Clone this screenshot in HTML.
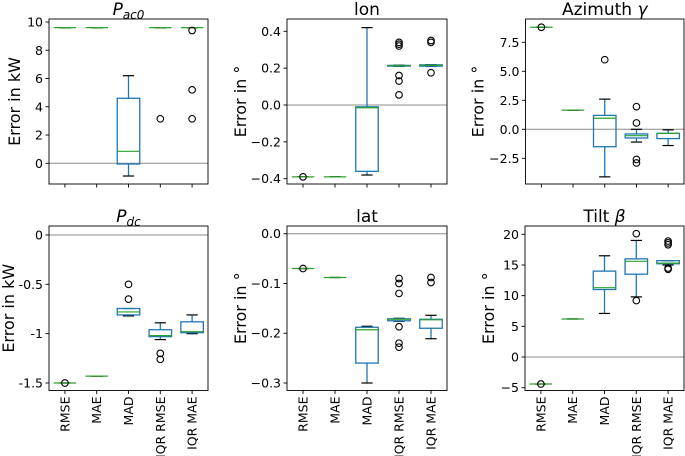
<!DOCTYPE html>
<html><head><meta charset="utf-8"><style>
body{margin:0;background:#fff;}
svg{display:block;font-family:"DejaVu Sans","Liberation Sans",sans-serif;}
</style></head><body>
<svg id="c" width="685" height="456" viewBox="0 0 685 456"></svg>
<script>
const categories = ["RMSE","MAE","MAD","IQR RMSE","IQR MAE"];
// stats per panel: [whislo, q1, med, q3, whishi, fliers]
const pac0Stats = [[9.6,9.6,9.6,9.6,9.6,[]],[9.6,9.6,9.6,9.6,9.6,[]],[-0.9,-0.05,0.85,4.6,6.2,[]],[9.6,9.6,9.6,9.6,9.6,[3.15]],[9.6,9.6,9.6,9.6,9.6,[9.4,5.2,3.15]]];
const lonStats = [[-0.39,-0.39,-0.39,-0.39,-0.39,[-0.39]],[-0.39,-0.39,-0.39,-0.39,-0.39,[]],[-0.38,-0.36,-0.015,-0.01,0.42,[]],[0.21,0.211,0.213,0.215,0.216,[0.34,0.33,0.32,0.16,0.13,0.055]],[0.21,0.211,0.215,0.218,0.219,[0.35,0.34,0.175]]];
const aziStats = [[8.8,8.8,8.8,8.8,8.8,[8.8]],[1.65,1.65,1.65,1.65,1.65,[]],[-4.1,-1.5,0.95,1.2,2.6,[6.0]],[-1.1,-0.75,-0.55,-0.4,0.0,[1.95,0.55,-2.6,-2.9]],[-1.4,-0.8,-0.35,-0.35,-0.05,[]]];
const pdcStats = [[-1.5,-1.5,-1.5,-1.5,-1.5,[-1.5]],[-1.43,-1.43,-1.43,-1.43,-1.43,[]],[-0.82,-0.81,-0.78,-0.745,-0.745,[-0.5,-0.65]],[-1.06,-1.03,-1.02,-0.96,-0.89,[-1.2,-1.26]],[-1.0,-0.99,-0.98,-0.88,-0.81,[]]];
const latStats = [[-0.07,-0.07,-0.07,-0.07,-0.07,[-0.07]],[-0.088,-0.088,-0.088,-0.088,-0.088,[]],[-0.3,-0.26,-0.193,-0.188,-0.186,[]],[-0.176,-0.175,-0.172,-0.171,-0.17,[-0.09,-0.1,-0.12,-0.187,-0.22,-0.228]],[-0.211,-0.19,-0.173,-0.172,-0.164,[-0.088,-0.098]]];
const tiltStats = [[-4.4,-4.4,-4.4,-4.4,-4.4,[-4.4]],[6.2,6.2,6.2,6.2,6.2,[]],[7.1,11.0,11.3,14.0,16.5,[]],[9.8,13.5,15.6,16.0,19.0,[20.1,9.2]],[15.0,15.2,15.3,15.7,15.7,[18.3,18.6,18.9,14.3,14.5]]];
const pac0Ticks = [0,2,4,6,8,10], pac0TickLabels = ["0","2","4","6","8","10"];
const lonTicks = [-0.4,-0.2,0,0.2,0.4], lonTickLabels = ["−0.4","−0.2","0.0","0.2","0.4"];
const aziTicks = [-2.5,0,2.5,5,7.5], aziTickLabels = ["−2.5","0.0","2.5","5.0","7.5"];
const pdcTicks = [-1.5,-1,-0.5,0], pdcTickLabels = ["-1.5","-1","-0.5","0"];
const latTicks = [-0.3,-0.2,-0.1,0], latTickLabels = ["−0.3","−0.2","−0.1","0.0"];
const tiltTicks = [-5,0,5,10,15,20], tiltTickLabels = ["−5","0","5","10","15","20"];

const NS="http://www.w3.org/2000/svg";
const svg=document.getElementById('c');
function mk(tag,attrs,parent){const e=document.createElementNS(NS,tag);for(const k in attrs)e.setAttribute(k,attrs[k]);(parent||svg).appendChild(e);return e;}

const panels=[
 {name:'pac0',title:'P<tspan font-size="12" dy="4">ac0</tspan>',italic:true,ylabel:'Error in kW',yo:35,L:49,R:208,T:19,B:184,v0:10,p0:22,v1:0,p1:163.3,stats:pac0Stats,ticks:pac0Ticks,labels:pac0TickLabels,xl:false},
 {name:'lon',title:'lon',ylabel:'Error in °',yo:47,L:287,R:447,T:19,B:184,v0:0.4,p0:31.3,v1:-0.4,p1:178.7,stats:lonStats,ticks:lonTicks,labels:lonTickLabels,xl:false},
 {name:'azimuth',title:'Azimuth <tspan font-style="italic">γ</tspan>',ylabel:'Error in °',yo:48,L:525.5,R:684,T:19,B:184,v0:7.5,p0:42.3,v1:-2.5,p1:158.3,stats:aziStats,ticks:aziTicks,labels:aziTickLabels,xl:false},
 {name:'pdc',title:'P<tspan font-size="12" dy="4">dc</tspan>',italic:true,ylabel:'Error in kW',yo:41,L:49,R:208,T:226,B:390.5,v0:0,p0:235,v1:-1.5,p1:383,stats:pdcStats,ticks:pdcTicks,labels:pdcTickLabels,xl:true},
 {name:'lat',title:'lat',ylabel:'Error in °',yo:47,L:287,R:447,T:226,B:390.5,v0:0,p0:233.7,v1:-0.3,p1:383,stats:latStats,ticks:latTicks,labels:latTickLabels,xl:true},
 {name:'tilt',title:'Tilt <tspan font-style="italic">β</tspan>',ylabel:'Error in °',yo:37,L:525,R:684,T:226,B:390.5,v0:20,p0:234.3,v1:-5,p1:387.7,stats:tiltStats,ticks:tiltTicks,labels:tiltTickLabels,xl:true}
];

panels.forEach(p=>{
 const g=mk('g',{});
 
 
 const y=v=>p.p1+(v-p.v1)*(p.p0-p.p1)/(p.v0-p.v1);
 const unit=(p.R-p.L)/5;
 const x=i=>p.L+unit*(i+0.5);
 const bw=22.5;
 const z=mk('line',{x1:p.L,x2:p.R,y1:y(0),y2:y(0),stroke:'#8c8c8c','stroke-width':1},g);
 
 p.stats.forEach((s,i)=>{
  const bg=mk('g',{},g);
  
  
  const cx=x(i);
  mk('line',{x1:cx,x2:cx,y1:y(s[0]),y2:y(s[1]),stroke:'#1f77b4','stroke-width':1.3},bg);
  mk('line',{x1:cx,x2:cx,y1:y(s[3]),y2:y(s[4]),stroke:'#1f77b4','stroke-width':1.3},bg);
  mk('line',{x1:cx-bw/4,x2:cx+bw/4,y1:y(s[0]),y2:y(s[0]),stroke:'#000','stroke-width':1.2},bg);
  mk('line',{x1:cx-bw/4,x2:cx+bw/4,y1:y(s[4]),y2:y(s[4]),stroke:'#000','stroke-width':1.2},bg);
  mk('rect',{x:cx-bw/2,y:y(s[3]),width:bw,height:Math.max(0,y(s[1])-y(s[3])),fill:'none',stroke:'#1f77b4','stroke-width':1.3},bg);
  mk('line',{x1:cx-bw/2,x2:cx+bw/2,y1:y(s[2]),y2:y(s[2]),stroke:'#2ca02c','stroke-width':1.2},bg);
  s[5].forEach(f=>mk('circle',{cx:cx,cy:y(f),r:3.3,fill:'none',stroke:'#000','stroke-width':1.1},bg));
 });
 const fr=mk('rect',{x:p.L,y:p.T,width:p.R-p.L,height:p.B-p.T,fill:'none',stroke:'#000','stroke-width':0.9},g);
 
 p.ticks.forEach((t,i)=>{
  mk('line',{x1:p.L-3.5,x2:p.L,y1:y(t),y2:y(t),stroke:'#000','stroke-width':0.9},g);
  const tx=mk('text',{x:p.L-6,y:y(t)+4.5,'text-anchor':'end','font-size':12.5,fill:'#000'},g);
  tx.textContent=p.labels[i];
  
 });
 categories.forEach((c,i)=>{
  mk('line',{x1:x(i),x2:x(i),y1:p.B,y2:p.B+3.5,stroke:'#000','stroke-width':0.9},g);
  if(p.xl){
   const tx=mk('text',{transform:`translate(${x(i)+4.5},${p.B+6}) rotate(-90)`,'text-anchor':'end','font-size':12.5,fill:'#000'},g);
   tx.textContent=c;
   
  }
 });
 const tt=mk('text',{x:(p.L+p.R)/2,y:p.T-4,'text-anchor':'middle','font-size':17,fill:'#000'},g);
 if(p.italic)tt.setAttribute('font-style','italic');
 tt.innerHTML=p.title;
 
 const yl=mk('text',{transform:`translate(${p.L-p.yo+6},${(p.T+p.B)/2}) rotate(-90)`,'text-anchor':'middle','font-size':16,fill:'#000'},g);
 yl.textContent=p.ylabel;
 
});
</script>
</body></html>
